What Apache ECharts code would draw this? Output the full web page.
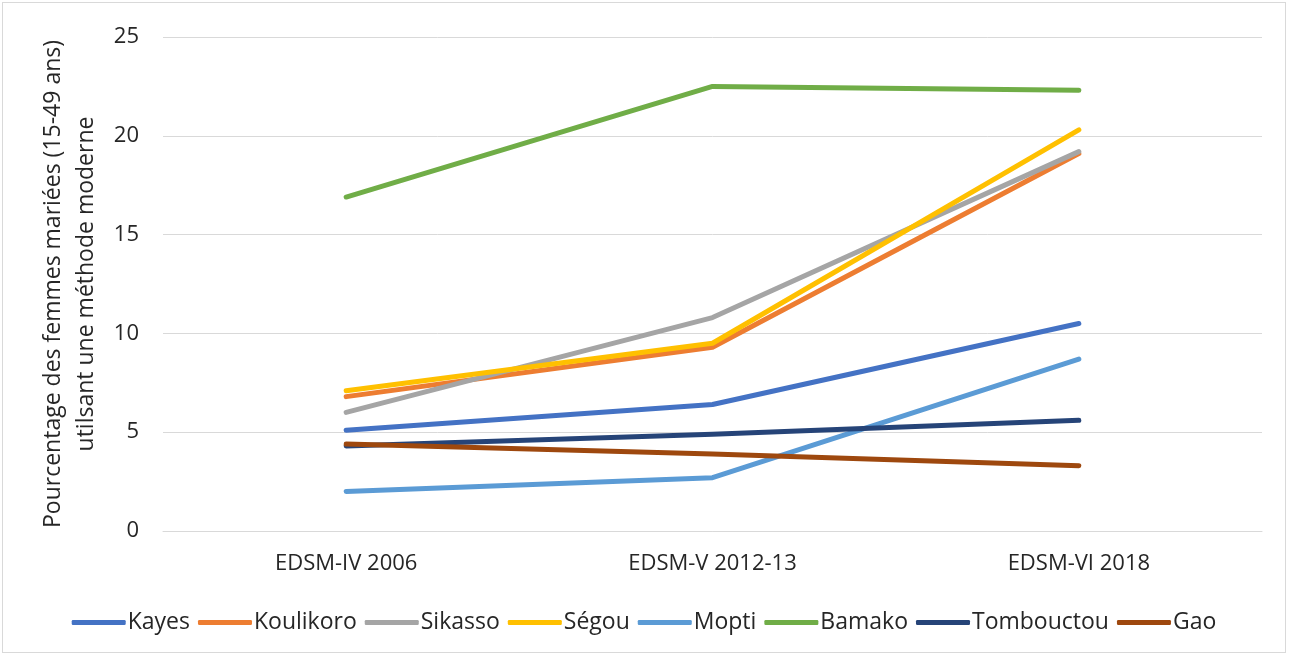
<!DOCTYPE html>
<html>
<head>
<meta charset="utf-8">
<script src="https://cdn.jsdelivr.net/npm/echarts@6/dist/echarts.min.js"></script>
<style>
  html, body { margin: 0; padding: 0; background: #fff; }
  .box {
    position: absolute; left: 2px; top: 2px;
    width: 1284px; height: 651px;
    border: 1px solid #d9d9d9; box-sizing: border-box;
  }
  #chart { width: 100%; height: 100%; }
</style>
</head>
<body>
<div class="box"><div id="chart"></div></div>
<script>
// données
var categories = ["EDSM-IV 2006", "EDSM-V 2012-13", "EDSM-VI 2018"];
var kayes = [5.1, 6.4, 10.5];
var koulikoro = [6.8, 9.3, 19.1];
var sikasso = [6.0, 10.8, 19.2];
var segou = [7.1, 9.5, 20.3];
var mopti = [2.0, 2.7, 8.7];
var bamako = [16.9, 22.5, 22.3];
var tombouctou = [4.3, 4.9, 5.6];
var gao = [4.4, 3.9, 3.3];

var names = ["Kayes", "Koulikoro", "Sikasso", "Ségou", "Mopti", "Bamako", "Tombouctou", "Gao"];
var values = [kayes, koulikoro, sikasso, segou, mopti, bamako, tombouctou, gao];
var colors = ["#4472C4", "#ED7D31", "#A5A5A5", "#FFC000", "#5B9BD5", "#70AD47", "#264478", "#9E480E"];

var font = "Open Sans";

var myChart = echarts.init(document.getElementById("chart"));

var series = names.map(function (n, i) {
  return {
    name: n,
    type: "line",
    data: values[i],
    symbol: "none",
    color: colors[i],
    lineStyle: { width: 5, cap: "round", join: "round" },
  };
});

var option = {
  animation: false,
  textStyle: { fontFamily: font },
  grid: { left: 160, right: 23, top: 34, bottom: 121 },
  legend: {
    bottom: 13,
    left: "center",
    itemWidth: 54,
    itemHeight: 5,
    itemGap: 8,
    icon: "roundRect",
    textStyle: { fontSize: 23, color: "#262626", fontFamily: font, padding: [0, 0, 0, -3] },
  },
  xAxis: {
    type: "category",
    data: categories,
    boundaryGap: true,
    axisLine: { lineStyle: { color: "#d9d9d9", width: 1 } },
    axisTick: { show: false },
    axisLabel: { fontSize: 22, color: "#262626", margin: 22 },
  },
  yAxis: {
    type: "value",
    min: 0,
    max: 25,
    interval: 5,
    name: "Pourcentage des femmes mariées (15-49 ans)\nutilsant une méthode moderne",
    nameLocation: "middle",
    nameGap: 59,
    nameTextStyle: { fontSize: 23, color: "#262626", lineHeight: 33 },
    axisLine: { show: false },
    axisTick: { show: false },
    axisLabel: { fontSize: 22, color: "#262626", margin: 24 },
    splitLine: { lineStyle: { color: "#d9d9d9", width: 1 } },
  },
  series: series,
};

myChart.setOption(option);
</script>
</body>
</html>
